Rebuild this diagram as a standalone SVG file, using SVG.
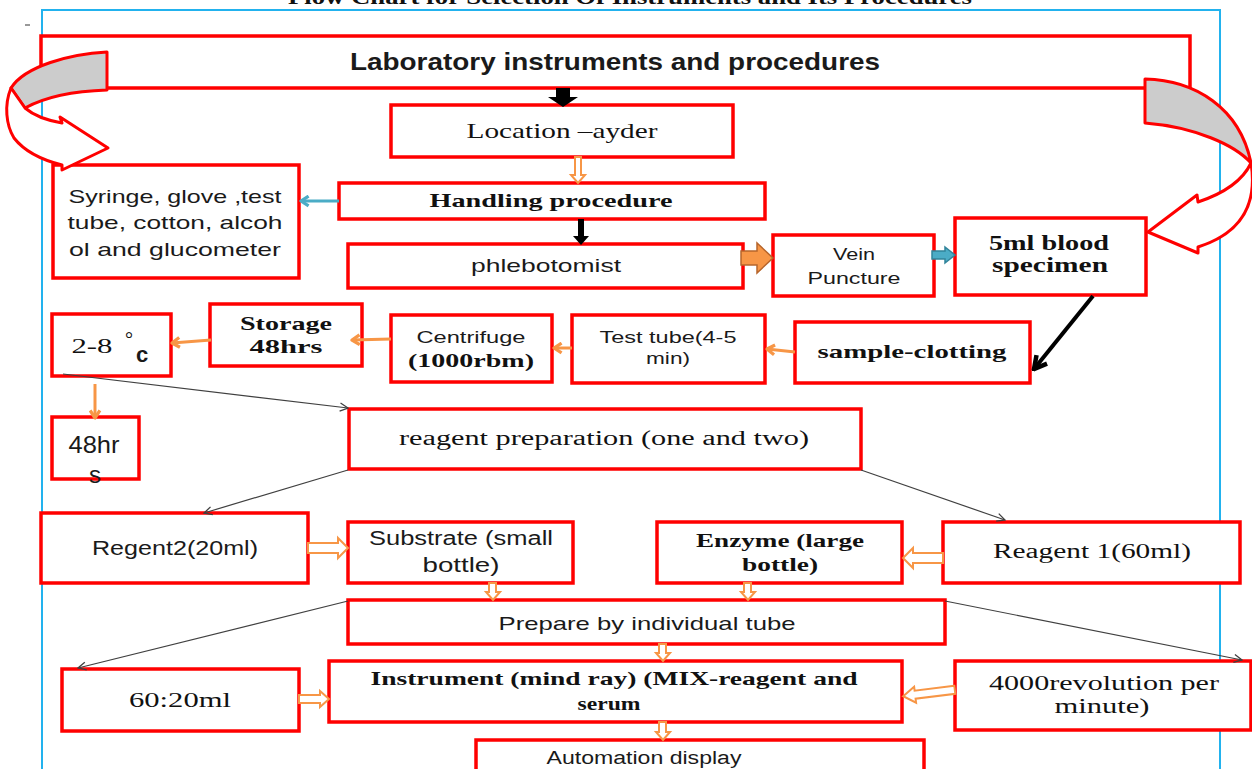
<svg xmlns="http://www.w3.org/2000/svg" width="1252" height="769" viewBox="0 0 1252 769">
<style>
.box{fill:#fff;stroke:#ff0000;stroke-width:3.5}
.sans{font-family:"Liberation Sans","Open Sans",sans-serif;fill:#1a1a1a;text-anchor:middle}
.serif{font-family:"Liberation Serif","DejaVu Serif",serif;fill:#111;text-anchor:middle}
.b{font-weight:bold}
.thin{stroke:#404040;stroke-width:1.2;fill:none;marker-end:url(#mThin)}
.or{stroke:#F79646;stroke-width:3;fill:none;marker-end:url(#mOr)}
.hol{fill:#fff;stroke:#F79646;stroke-width:2}
.curv{stroke:#ff0000;stroke-width:3;stroke-linejoin:round}
</style>
<defs>
<marker id="mThin" viewBox="0 0 10 10" refX="9" refY="5" markerWidth="10" markerHeight="10" orient="auto" markerUnits="userSpaceOnUse"><path d="M1,1 L9,5 L1,9" fill="none" stroke="#404040" stroke-width="1.3"/></marker>
<marker id="mOr" viewBox="0 0 12 12" refX="10" refY="6" markerWidth="13" markerHeight="13" orient="auto" markerUnits="userSpaceOnUse"><path d="M3,1.5 L10,6 L3,10.5" fill="none" stroke="#F79646" stroke-width="3" stroke-linejoin="round"/></marker>
<marker id="mBlue" viewBox="0 0 12 12" refX="10" refY="6" markerWidth="13" markerHeight="13" orient="auto" markerUnits="userSpaceOnUse"><path d="M3,1.5 L10,6 L3,10.5" fill="none" stroke="#4BACC6" stroke-width="3" stroke-linejoin="round"/></marker>
<marker id="mBlack" viewBox="0 0 16 16" refX="14" refY="8" markerWidth="18" markerHeight="18" orient="auto" markerUnits="userSpaceOnUse"><path d="M3,2 L14,8 L3,14" fill="none" stroke="#000" stroke-width="4" stroke-linejoin="miter"/></marker>
</defs>

<rect width="1252" height="769" fill="#fff"/>

<g id="frame">
<path d="M42,769 L42,10 L1220,10 L1220,769" fill="none" stroke="#22B2EE" stroke-width="2"/>
<line x1="25" y1="25" x2="30" y2="25" stroke="#333" stroke-width="1"/>
<text class="serif b" x="630" y="4" font-size="20" textLength="684" lengthAdjust="spacingAndGlyphs">Flow Chart for Selection Of Instruments and Its Procedures</text>
</g>

<g id="lab">
<rect class="box" x="41" y="36" width="1149" height="52"/>
<text class="sans b" x="615" y="70" font-size="24" textLength="530" lengthAdjust="spacingAndGlyphs">Laboratory  instruments and procedures</text>
</g>

<g id="location">
<rect class="box" x="391" y="105" width="342" height="52"/>
<text class="serif" x="562" y="138" font-size="21" textLength="191" lengthAdjust="spacingAndGlyphs">Location –ayder</text>
</g>

<g id="handling">
<rect class="box" x="339" y="183" width="426" height="36"/>
<text class="serif b" x="551" y="207" font-size="19" textLength="243" lengthAdjust="spacingAndGlyphs">Handling procedure</text>
</g>

<g id="syringe">
<rect class="box" x="53" y="165" width="246" height="113"/>
<text class="sans" x="175" y="203" font-size="19" textLength="213" lengthAdjust="spacingAndGlyphs">Syringe, glove ,test</text>
<text class="sans" x="175" y="229" font-size="19" textLength="215" lengthAdjust="spacingAndGlyphs">tube, cotton, alcoh</text>
<text class="sans" x="175" y="256" font-size="19" textLength="212" lengthAdjust="spacingAndGlyphs">ol and  glucometer</text>
</g>

<g id="phlebotomist">
<rect class="box" x="348" y="244" width="395" height="44"/>
<text class="sans" x="546" y="272" font-size="19" textLength="150" lengthAdjust="spacingAndGlyphs">phlebotomist</text>
</g>

<g id="vein">
<rect class="box" x="773" y="235" width="161" height="61"/>
<text class="sans" x="854" y="260" font-size="17" textLength="42" lengthAdjust="spacingAndGlyphs">Vein</text>
<text class="sans" x="854" y="284" font-size="17" textLength="93" lengthAdjust="spacingAndGlyphs">Puncture</text>
</g>

<g id="blood">
<rect class="box" x="955" y="218" width="191" height="77"/>
<text class="serif b" x="1049" y="250" font-size="21" textLength="120" lengthAdjust="spacingAndGlyphs">5ml blood</text>
<text class="serif b" x="1050" y="272" font-size="21" textLength="116" lengthAdjust="spacingAndGlyphs">specimen</text>
</g>

<g id="clotting">
<rect class="box" x="795" y="322" width="235" height="61"/>
<text class="serif b" x="912" y="358" font-size="19" textLength="189" lengthAdjust="spacingAndGlyphs">sample-clotting</text>
</g>

<g id="testtube">
<rect class="box" x="572" y="315" width="193" height="68"/>
<text class="sans" x="668" y="343" font-size="16" textLength="137" lengthAdjust="spacingAndGlyphs">Test tube(4-5</text>
<text class="sans" x="668" y="364" font-size="16" textLength="44" lengthAdjust="spacingAndGlyphs">min)</text>
</g>

<g id="centrifuge">
<rect class="box" x="391" y="315" width="161" height="67"/>
<text class="sans" x="471" y="343" font-size="16" textLength="109" lengthAdjust="spacingAndGlyphs">Centrifuge</text>
<text class="serif b" x="471" y="367" font-size="19" textLength="126" lengthAdjust="spacingAndGlyphs">(1000rbm)</text>
</g>

<g id="storage">
<rect class="box" x="210" y="304" width="152" height="62"/>
<text class="serif b" x="286" y="330" font-size="19" textLength="92" lengthAdjust="spacingAndGlyphs">Storage</text>
<text class="serif b" x="286" y="353" font-size="19" textLength="73" lengthAdjust="spacingAndGlyphs">48hrs</text>
</g>

<g id="temp">
<rect class="box" x="52" y="314" width="119" height="62"/>
<text class="serif" x="92" y="353" font-size="20" textLength="41" lengthAdjust="spacingAndGlyphs">2-8</text>
<text class="serif" x="129" y="346" font-size="20">°</text>
<text class="sans b" x="142" y="362" font-size="22">c</text>
</g>

<g id="hrs48">
<rect class="box" x="52" y="417" width="87" height="62"/>
<text class="sans" x="94" y="453" font-size="24" textLength="51" lengthAdjust="spacingAndGlyphs">48hr</text>
<text class="sans" x="95" y="483" font-size="24">s</text>
</g>

<g id="reagentprep">
<rect class="box" x="349" y="409" width="512" height="60"/>
<text class="serif" x="604" y="445" font-size="20" textLength="410" lengthAdjust="spacingAndGlyphs">reagent preparation (one and two)</text>
</g>

<g id="regent2">
<rect class="box" x="41" y="513" width="267" height="70"/>
<text class="sans" x="175" y="555" font-size="20" textLength="166" lengthAdjust="spacingAndGlyphs">Regent2(20ml)</text>
</g>

<g id="substrate">
<rect class="box" x="348" y="522" width="225" height="61"/>
<text class="sans" x="461" y="545" font-size="20" textLength="184" lengthAdjust="spacingAndGlyphs">Substrate (small</text>
<text class="sans" x="461" y="572" font-size="20" textLength="77" lengthAdjust="spacingAndGlyphs">bottle)</text>
</g>

<g id="enzyme">
<rect class="box" x="657" y="522" width="245" height="61"/>
<text class="serif b" x="780" y="547" font-size="19" textLength="168" lengthAdjust="spacingAndGlyphs">Enzyme (large</text>
<text class="serif b" x="780" y="571" font-size="19" textLength="76" lengthAdjust="spacingAndGlyphs">bottle)</text>
</g>

<g id="reagent1">
<rect class="box" x="943" y="522" width="297" height="61"/>
<text class="serif" x="1092" y="558" font-size="20" textLength="198" lengthAdjust="spacingAndGlyphs">Reagent 1(60ml)</text>
</g>

<g id="prepare">
<rect class="box" x="348" y="600" width="597" height="44"/>
<text class="sans" x="647" y="630" font-size="19" textLength="297" lengthAdjust="spacingAndGlyphs">Prepare by individual tube</text>
</g>

<g id="ratio">
<rect class="box" x="62" y="669" width="237" height="62"/>
<text class="serif" x="180" y="707" font-size="20" textLength="102" lengthAdjust="spacingAndGlyphs">60:20ml</text>
</g>

<g id="instrument">
<rect class="box" x="329" y="661" width="573" height="61"/>
<text class="serif b" x="614" y="685" font-size="19" textLength="487" lengthAdjust="spacingAndGlyphs">Instrument (mind ray) (MIX-reagent and</text>
<text class="serif b" x="609" y="710" font-size="19" textLength="63" lengthAdjust="spacingAndGlyphs">serum</text>
</g>

<g id="rpm">
<rect class="box" x="955" y="661" width="296" height="69"/>
<text class="serif" x="1104" y="690" font-size="20" textLength="230" lengthAdjust="spacingAndGlyphs">4000revolution per</text>
<text class="serif" x="1102" y="713" font-size="20" textLength="95" lengthAdjust="spacingAndGlyphs">minute)</text>
</g>

<g id="automation">
<rect class="box" x="476" y="740" width="448" height="40"/>
<text class="sans" x="644" y="764" font-size="18" textLength="195" lengthAdjust="spacingAndGlyphs">Automation display</text>
</g>

<g id="connectors">
<!-- big curved arrows -->
<path class="curv" d="M107,52 C70,54 25,66 11,88 L25,108 C45,97 75,91 107,90 Z" fill="#CCCCCC"/>
<path class="curv" d="M11,88 C4,105 6,125 14,138 C25,152 42,160 62,165 L62,170 L108,148 L60,117 L62,123 C45,120 32,114 25,108 Z" fill="#fff"/>
<path class="curv" d="M1145,79 C1195,80 1240,108 1251,163 C1235,145 1195,127 1145,123 Z" fill="#CCCCCC"/>
<path class="curv" d="M1251,163 C1257,200 1245,232 1198,247 L1198,253 L1148,232 L1197,195 L1198,202 C1225,193 1243,180 1251,163 Z" fill="#fff"/>

<!-- black arrows -->
<path d="M556,88 L570,88 L570,97 L578,97 L563,107 L548,97 L556,97 Z" fill="#000"/>
<line x1="581" y1="219" x2="581" y2="237" stroke="#000" stroke-width="6"/>
<path d="M573,236 L589,236 L581,245 Z" fill="#000"/>
<line x1="1093" y1="296" x2="1034" y2="369" stroke="#000" stroke-width="4" marker-end="url(#mBlack)"/>

<!-- blue / coloured block arrows -->
<line x1="339" y1="201" x2="301" y2="201" stroke="#4BACC6" stroke-width="3" marker-end="url(#mBlue)"/>
<path d="M741,251 L757,251 L757,243 L773,258 L757,273 L757,265 L741,265 Z" fill="#F79646" stroke="#B7652B" stroke-width="1.5"/>
<path d="M932,251 L945,251 L945,247 L955,255 L945,263 L945,259 L932,259 Z" fill="#4BACC6" stroke="#31849B" stroke-width="1.5"/>

<!-- orange single arrows -->
<line class="or" x1="795" y1="352" x2="767" y2="349"/>
<line class="or" x1="572" y1="348" x2="554" y2="348"/>
<line class="or" x1="391" y1="339" x2="352" y2="340"/>
<line class="or" x1="211" y1="340" x2="172" y2="343"/>
<line class="or" x1="95" y1="384" x2="95" y2="418"/>

<!-- orange hollow arrows -->
<path class="hol" d="M575,157 L581,157 L581,175 L585,175 L578,183 L571,175 L575,175 Z"/>
<path class="hol" d="M308,543 L338,543 L338,538 L348,548 L338,558 L338,553 L308,553 Z"/>
<path class="hol" d="M943,553 L913,553 L913,548 L903,558 L913,568 L913,563 L943,563 Z"/>
<path class="hol" d="M489,583 L496,583 L496,592 L500,592 L493,600 L486,592 L489,592 Z"/>
<path class="hol" d="M744,583 L751,583 L751,592 L755,592 L748,600 L741,592 L744,592 Z"/>
<path class="hol" d="M659,644 L666,644 L666,653 L670,653 L663,661 L656,653 L659,653 Z"/>
<path class="hol" d="M299,695 L320,695 L320,691 L329,699 L320,707 L320,703 L299,703 Z"/>
<path class="hol" d="M955,689 L915,689 L915,685 L903,693 L915,701 L915,697 L955,697 Z" transform="rotate(-7 929 693)"/>
<path class="hol" d="M659,722 L666,722 L666,732 L670,732 L663,740 L656,732 L659,732 Z"/>

<!-- thin arrows -->
<line class="thin" x1="63" y1="374" x2="348" y2="408"/>
<line class="thin" x1="348" y1="470" x2="204" y2="513"/>
<line class="thin" x1="861" y1="470" x2="1005" y2="520"/>
<line class="thin" x1="348" y1="601" x2="78" y2="668"/>
<line class="thin" x1="945" y1="601" x2="1242" y2="660"/>
</g>
</svg>
